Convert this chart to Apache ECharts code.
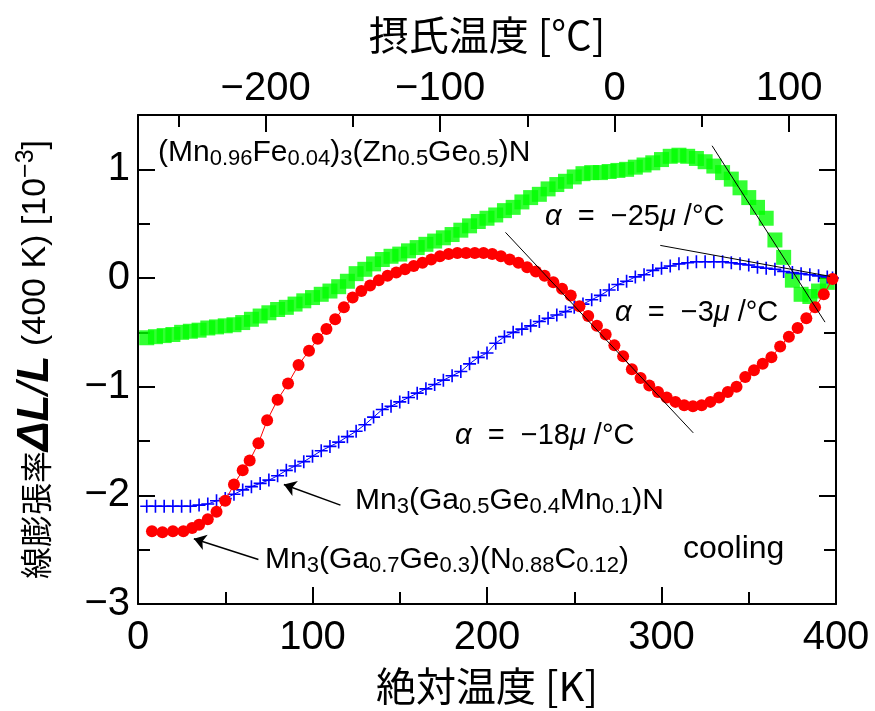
<!DOCTYPE html>
<html>
<head>
<meta charset="utf-8">
<script src="https://cdn.jsdelivr.net/npm/echarts@6/dist/echarts.min.js"></script>
<style>
  html, body { margin: 0; padding: 0; background: #fff; }
  #chart { width: 875px; height: 711px; }
</style>
</head>
<body>
<div id="chart"></div>
<script>
// (Mn0.96Fe0.04)3(Zn0.5Ge0.5)N  [K, 10^-3]
const greenPoints = [
  [5,-0.55],[10,-0.54],[15,-0.53],[20,-0.52],[25,-0.50],[30,-0.49],[35,-0.48],[40,-0.46],
  [45,-0.45],[50,-0.44],[55,-0.43],[60,-0.41],[65,-0.38],[70,-0.35],[75,-0.32],[80,-0.29],
  [85,-0.27],[90,-0.24],[95,-0.21],[100,-0.18],[105,-0.15],[110,-0.12],[115,-0.08],[120,-0.03],
  [125,0.04],[130,0.08],[135,0.13],[140,0.17],[145,0.20],[150,0.22],[155,0.25],[160,0.28],
  [165,0.31],[170,0.34],[175,0.37],[180,0.40],[185,0.44],[190,0.48],[195,0.52],[200,0.55],
  [205,0.58],[210,0.62],[215,0.65],[220,0.70],[225,0.74],[230,0.77],[235,0.82],[240,0.86],
  [245,0.89],[250,0.93],[255,0.96],[260,0.97],[265,0.97],[270,0.98],[275,0.99],[280,1.00],
  [285,1.02],[290,1.04],[295,1.06],[300,1.09],[305,1.12],[310,1.13],[315,1.12],[320,1.10],
  [325,1.07],[330,1.03],[335,0.97],[340,0.91],[345,0.83],[350,0.74],[355,0.65],[360,0.55],
  [365,0.35],[370,0.19],[375,-0.02],[380,-0.15],[385,-0.17],[390,-0.12],[395,-0.04]
];
// Mn3(Ga0.7Ge0.3)(N0.88C0.12)
const redPoints = [
  [8,-2.33],[14,-2.34],[20,-2.33],[26,-2.33],[31,-2.30],[35,-2.27],[40,-2.22],[45,-2.15],
  [50,-2.05],[55,-1.90],[60,-1.77],[64,-1.68],[69,-1.52],[74,-1.31],[80,-1.12],[86,-0.97],
  [92,-0.80],[98,-0.67],[103,-0.56],[108,-0.47],[113,-0.38],[118,-0.27],[123,-0.18],[128,-0.12],
  [133,-0.07],[138,-0.02],[143,0.02],[148,0.05],[153,0.08],[158,0.11],[163,0.14],[168,0.17],
  [173,0.20],[178,0.22],[183,0.23],[188,0.23],[193,0.23],[198,0.23],[203,0.22],[208,0.20],
  [213,0.17],[218,0.14],[223,0.10],[228,0.06],[233,0.02],[238,-0.04],[243,-0.10],[248,-0.16],
  [253,-0.26],[258,-0.35],[263,-0.44],[268,-0.52],[273,-0.62],[278,-0.72],[283,-0.84],[288,-0.92],
  [293,-0.99],[298,-1.05],[303,-1.10],[308,-1.14],[313,-1.17],[318,-1.18],[323,-1.17],[328,-1.14],
  [333,-1.10],[338,-1.05],[343,-1.00],[348,-0.91],[353,-0.85],[358,-0.79],[363,-0.73],[368,-0.63],
  [373,-0.54],[378,-0.46],[383,-0.37],[388,-0.27],[393,-0.15],[398,-0.01]
];
// Mn3(Ga0.5Ge0.4Mn0.1)N
const bluePoints = [
  [5,-2.10],[10,-2.10],[15,-2.10],[20,-2.10],[25,-2.10],[30,-2.10],[35,-2.09],[40,-2.08],
  [45,-2.05],[50,-2.03],[55,-1.99],[60,-1.95],[65,-1.92],[70,-1.89],[75,-1.86],[80,-1.82],
  [85,-1.77],[90,-1.73],[95,-1.69],[100,-1.64],[105,-1.59],[110,-1.55],[115,-1.51],[120,-1.46],
  [125,-1.41],[130,-1.35],[135,-1.28],[140,-1.21],[145,-1.18],[150,-1.14],[155,-1.10],[160,-1.06],
  [165,-1.02],[170,-0.98],[175,-0.94],[180,-0.90],[185,-0.86],[190,-0.79],[195,-0.73],[200,-0.69],
  [205,-0.60],[210,-0.54],[215,-0.50],[220,-0.47],[225,-0.44],[230,-0.40],[235,-0.37],[240,-0.34],
  [245,-0.31],[250,-0.27],[255,-0.24],[260,-0.20],[265,-0.16],[270,-0.11],[275,-0.06],[280,-0.03],
  [285,0.01],[290,0.03],[295,0.07],[300,0.09],[305,0.11],[310,0.13],[315,0.14],[320,0.15],
  [325,0.15],[330,0.15],[335,0.15],[340,0.14],[345,0.13],[350,0.12],[355,0.10],[360,0.09],
  [365,0.08],[370,0.06],[375,0.05],[380,0.04],[385,0.03],[390,0.02],[395,0.01],[398,0.00]
];
// tangent lines (slopes)
const tangentRed = [[210.6,0.42],[318.2,-1.425]];
const tangentGreen = [[329,1.217],[393.7,-0.406]];
const tangentBlue = [[299.3,0.30],[396.6,0.015]];
// arrows: [tail, head]
const arrowBlue = [[116,-2.09],[83.6,-1.90]];
const arrowRed = [[69,-2.59],[32,-2.40]];

const yMajor = [-3,-2,-1,0,1];
const yMinor = [-2.5,-1.5,-0.5,0.5];
const cMajor = [-200,-100,0,100];
const cMinor = [-250,-150,-50,50];

const numFont = 'Liberation Sans';
const cjkFont = 'Noto Sans CJK JP';
const minus = v => String(v).replace('-', '\u2212');

const chart = echarts.init(document.getElementById('chart'), null, { renderer: 'canvas' });

const tickLabel = { fontSize: 40, color: '#000', fontFamily: numFont, formatter: minus };
const blackLine = { onZero: false, lineStyle: { color: '#000', width: 2 } };
const noLine = { show: false, onZero: false };

function tangent(data) {
  return {
    type: 'line', data: data, symbol: 'none', silent: true, z: 5,
    lineStyle: { color: '#000', width: 1 }
  };
}

const sub = { fontSize: 22, fontFamily: numFont, fill: '#000', verticalAlign: 'bottom', lineHeight: 22 };
const main = { fontSize: 30, fontFamily: numFont, fill: '#000', lineHeight: 34 };
const alphaRich = {
  m: { fontSize: 29, fontFamily: numFont, fill: '#000' },
  g: { fontSize: 29, fontFamily: numFont, fontStyle: 'italic', fill: '#000' }
};

const option = {
  animation: false,
  backgroundColor: '#fff',
  grid: { left: 138, right: 39, top: 115, bottom: 106 },
  xAxis: [
    {
      type: 'value', position: 'bottom', min: 0, max: 400, interval: 100,
      name: '絶対温度 [K]', nameLocation: 'middle', nameGap: 62,
      nameTextStyle: { fontSize: 40, fontFamily: cjkFont, color: '#000' },
      axisLine: blackLine,
      axisTick: { inside: true, length: 17, lineStyle: { color: '#000', width: 2 } },
      minorTick: { show: true, splitNumber: 2, length: 12, lineStyle: { color: '#000', width: 2 } },
      axisLabel: Object.assign({ margin: 14 }, tickLabel),
      splitLine: { show: false }
    },
    {
      type: 'value', position: 'top', min: -273.15, max: 126.85,
      name: '摂氏温度 [°C]', nameLocation: 'middle', nameGap: 60,
      nameTextStyle: { fontSize: 40, fontFamily: cjkFont, color: '#000' },
      axisLine: blackLine,
      axisTick: { inside: true, length: 17, customValues: cMajor, lineStyle: { color: '#000', width: 2 } },
      axisLabel: Object.assign({ margin: 6, customValues: cMajor }, tickLabel),
      splitLine: { show: false }
    },
    {
      type: 'value', position: 'top', min: -273.15, max: 126.85,
      axisLine: noLine,
      axisTick: { inside: true, length: 12, customValues: cMinor, lineStyle: { color: '#000', width: 2 } },
      axisLabel: { show: false },
      splitLine: { show: false }
    }
  ],
  yAxis: [
    {
      type: 'value', position: 'left', min: -3, max: 1.5,
      name: '{a|線膨張率}{d|ΔL}{e|/}{d|L}{c| (400 K) [10}{s|−3}{c|]}',
      nameLocation: 'middle', nameGap: 80, nameRotate: 90,
      nameTextStyle: {
        color: '#000',
        rich: {
          a: { fontSize: 32, fontFamily: cjkFont, color: '#000' },
          d: { fontSize: 44, fontFamily: numFont, fontStyle: 'italic', fontWeight: 'bold', color: '#000' },
          e: { fontSize: 44, fontFamily: numFont, fontStyle: 'italic', color: '#000' },
          c: { fontSize: 34, fontFamily: numFont, color: '#000' },
          s: { fontSize: 25, fontFamily: numFont, color: '#000', verticalAlign: 'top' }
        }
      },
      axisLine: blackLine,
      axisTick: { inside: true, length: 17, customValues: yMajor, lineStyle: { color: '#000', width: 2 } },
      axisLabel: Object.assign({ margin: 8, customValues: yMajor }, tickLabel),
      splitLine: { show: false }
    },
    {
      type: 'value', position: 'right', min: -3, max: 1.5,
      axisLine: blackLine,
      axisTick: { inside: true, length: 17, customValues: yMajor, lineStyle: { color: '#000', width: 2 } },
      axisLabel: { show: false },
      splitLine: { show: false }
    },
    {
      type: 'value', position: 'left', min: -3, max: 1.5,
      axisLine: noLine,
      axisTick: { inside: true, length: 12, customValues: yMinor, lineStyle: { color: '#000', width: 2 } },
      axisLabel: { show: false },
      splitLine: { show: false }
    },
    {
      type: 'value', position: 'right', min: -3, max: 1.5,
      axisLine: noLine,
      axisTick: { inside: true, length: 12, customValues: yMinor, lineStyle: { color: '#000', width: 2 } },
      axisLabel: { show: false },
      splitLine: { show: false }
    }
  ],
  series: [
    {
      type: 'scatter', data: greenPoints, symbol: 'rect', symbolSize: 15,
      itemStyle: { color: '#00ff00' }, z: 2
    },
    {
      type: 'line', data: bluePoints, z: 3,
      symbol: 'path://M10.5,0h3v10.5h10.5v3h-10.5v10.5h-3v-10.5h-10.5v-3h10.5z', symbolSize: 13,
      itemStyle: { color: '#0000ff' }, lineStyle: { color: '#0000ff', width: 1 },
      markLine: {
        silent: true, symbol: ['none', 'arrow'], symbolSize: 12,
        label: { show: false },
        lineStyle: { color: '#000', width: 1.5, type: 'solid' },
        data: [
          [{ coord: arrowBlue[0] }, { coord: arrowBlue[1] }],
          [{ coord: arrowRed[0] }, { coord: arrowRed[1] }]
        ]
      }
    },
    {
      type: 'line', data: redPoints, z: 4,
      symbol: 'circle', symbolSize: 12,
      itemStyle: { color: '#ff0000' }, lineStyle: { color: '#ff0000', width: 1 }
    },
    tangent(tangentRed),
    tangent(tangentGreen),
    tangent(tangentBlue)
  ],
  graphic: [
    {
      type: 'text', left: 158, top: 138, z: 10,
      style: {
        text: '{m|(Mn}{s|0.96}{m|Fe}{s|0.04}{m|)}{s|3}{m|(Zn}{s|0.5}{m|Ge}{s|0.5}{m|)N}',
        rich: { m: main, s: sub }
      }
    },
    {
      type: 'text', left: 545, top: 202, z: 10,
      style: { text: '{g|α}{m|  =  −25}{g|μ}{m| /°C}', rich: alphaRich }
    },
    {
      type: 'text', left: 615, top: 298, z: 10,
      style: { text: '{g|α}{m|  =  −3}{g|μ}{m| /°C}', rich: alphaRich }
    },
    {
      type: 'text', left: 455, top: 421, z: 10,
      style: { text: '{g|α}{m|  =  −18}{g|μ}{m| /°C}', rich: alphaRich }
    },
    {
      type: 'text', left: 355, top: 486, z: 10,
      style: {
        text: '{m|Mn}{s|3}{m|(Ga}{s|0.5}{m|Ge}{s|0.4}{m|Mn}{s|0.1}{m|)N}',
        rich: { m: main, s: sub }
      }
    },
    {
      type: 'text', left: 265, top: 545, z: 10,
      style: {
        text: '{m|Mn}{s|3}{m|(Ga}{s|0.7}{m|Ge}{s|0.3}{m|)(N}{s|0.88}{m|C}{s|0.12}{m|)}',
        rich: { m: main, s: sub }
      }
    },
    {
      type: 'text', left: 683, top: 533, z: 10,
      style: { text: 'cooling', fontSize: 32, fontFamily: numFont, fill: '#000' }
    }
  ]
};

chart.setOption(option);
</script>
</body>
</html>
